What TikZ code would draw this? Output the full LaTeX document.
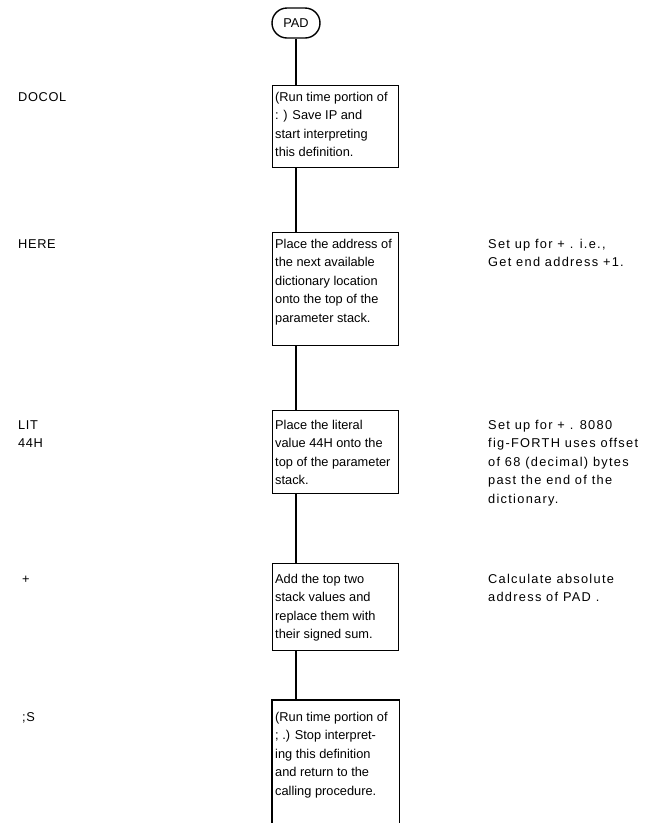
\documentclass[tikz,border=0pt]{standalone}
\usepackage{fontspec}
\setmainfont{Liberation Sans}
\newfontfamily\notefont[LetterSpace=10]{Liberation Sans}
\newfontfamily\labelfont[LetterSpace=5]{Liberation Sans}
\newcommand\bxtext[3]{\parbox[c][#1][t]{121pt}{\raggedright\vspace*{#2}\strut #3}}
\begin{document}
\begin{tikzpicture}[x=1pt,y=-1pt,
  every node/.style={font=\fontsize{12.8}{18.5}\selectfont},
  box/.style={draw, line width=1.4pt, anchor=north west, inner xsep=2.5pt, inner ysep=0pt},
  note/.style={anchor=north west, inner sep=0pt, align=left, font=\fontsize{12.8}{18.5}\notefont},
  lbl/.style={anchor=north west, inner sep=0pt, align=left, font=\fontsize{12.8}{18.5}\labelfont},
  conn/.style={line width=1.4pt}]
\useasboundingbox (0,0) rectangle (659,823);
\node[draw, line width=1.4pt, rounded corners=15pt, minimum width=48pt, minimum height=30pt, inner sep=0pt] (pad) at (296,23) {PAD};
\node[box] (b1) at (272,85) {\bxtext{82pt}{2.6pt}{(Run time portion of\\: ) Save IP and\\start interpreting\\this definition.}};
\node[box] (b2) at (272,232) {\bxtext{113pt}{2.6pt}{Place the address of\\the next available\\dictionary location\\onto the top of the\\parameter stack.}};
\node[box] (b3) at (272,410) {\bxtext{83pt}{5.6pt}{Place the literal\\value 44H onto the\\top of the parameter\\stack.}};
\node[box] (b4) at (272,563) {\bxtext{87pt}{6.6pt}{Add the top two\\stack values and\\replace them with\\their signed sum.}};
\node[box, draw=none] (b5) at (272,700) {\bxtext{118pt}{7.6pt}{(Run time portion of\\; .) Stop interpret-\\ing this definition\\and return to the\\calling procedure.}};
\draw[conn] ([yshift=-12pt]b5.south west) -- (b5.north west) -- (b5.north east) -- ([yshift=-12pt]b5.south east);
\draw[conn] (pad.south) -- (pad.south |- b1.north);
\draw[conn] (pad.south |- b1.south) -- (pad.south |- b2.north);
\draw[conn] (pad.south |- b2.south) -- (pad.south |- b3.north);
\draw[conn] (pad.south |- b3.south) -- (pad.south |- b4.north);
\draw[conn] (pad.south |- b4.south) -- (pad.south |- b5.north);
\node[lbl] (l1) at (18,88) {\strut DOCOL};
\node[lbl] (l2) at (18,235) {\strut HERE};
\node[lbl] (l3) at (18,416) {\strut LIT\\44H};
\node[lbl] (l4) at (22,570) {\strut +};
\node[lbl] (l5) at (22,708) {\strut ;S};
\node[note] (n2) at (488,235) {\strut Set up for + . i.e.,\\Get end address +1.};
\node[note] (n3) at (488,416) {\strut Set up for + . 8080\\fig-FORTH uses offset\\of 68 (decimal) bytes\\past the end of the\\dictionary.};
\node[note] (n4) at (488,570) {\strut Calculate absolute\\address of PAD .};
\end{tikzpicture}
\end{document}
